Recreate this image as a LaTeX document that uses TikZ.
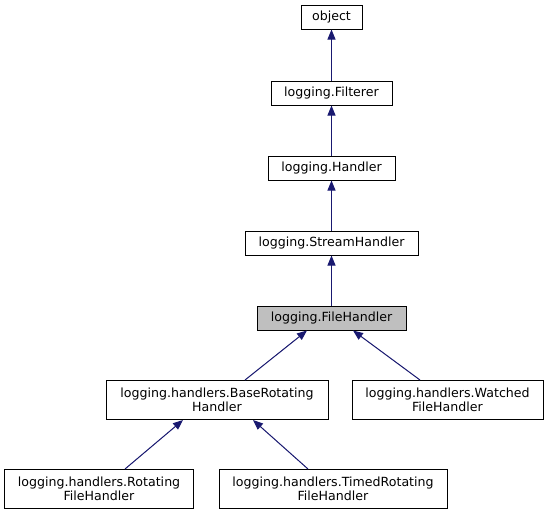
\documentclass[tikz,border=0pt]{standalone}
\usepackage{fontspec}
\setmainfont{DejaVu Sans}
\usetikzlibrary{arrows.meta}
\definecolor{edgeblue}{HTML}{191970}
\definecolor{focusgray}{HTML}{BFBFBF}
\begin{document}
\begin{tikzpicture}[x=1pt,y=-1pt,
  cls/.style={draw=black, line width=1pt, fill=white, inner sep=0pt,
    minimum height=24pt, align=center,
    font=\fontsize{12.6}{14.5}\selectfont},
  cls2/.style={cls, minimum height=39pt},
  focus/.style={cls, fill=focusgray},
  edge/.style={draw=edgeblue, line width=1pt,
    -{Triangle[length=10pt,width=8pt]}, fill=edgeblue}]
\useasboundingbox (0,0) rectangle (549,515);

\node[cls, minimum width=61pt]  (object)   at (331.5,17)  {object};
\node[cls, minimum width=121pt] (filterer) at (331.5,93)  {logging.Filterer};
\node[cls, minimum width=127pt] (handler)  at (331.5,168) {logging.Handler};
\node[cls, minimum width=173pt] (stream)   at (331.5,243) {logging.StreamHandler};
\node[focus, minimum width=149pt] (file)   at (331.5,318) {logging.FileHandler};
\node[cls2, minimum width=222pt] (base)    at (217,400)   {logging.handlers.BaseRotating\\Handler};
\node[cls2, minimum width=191pt] (watched) at (447.5,400) {logging.handlers.Watched\\FileHandler};
\node[cls2, minimum width=189pt] (rot)     at (99,489)    {logging.handlers.Rotating\\FileHandler};
\node[cls2, minimum width=228pt] (timed)   at (333,489)   {logging.handlers.TimedRotating\\FileHandler};

\draw[edge] (filterer.north) -- (object.south);
\draw[edge] (handler.north) -- (filterer.south);
\draw[edge] (stream.north) -- (handler.south);
\draw[edge] (file.north) -- (stream.south);
\draw[edge] ([xshift=28pt]base.north) -- ([xshift=-24.5pt]file.south);
\draw[edge] ([xshift=-27.5pt]watched.north) -- ([xshift=21.5pt]file.south);
\draw[edge] ([xshift=26pt]rot.north) -- ([xshift=-34pt]base.south);
\draw[edge] ([xshift=-25pt]timed.north) -- ([xshift=36pt]base.south);
\end{tikzpicture}
\end{document}
